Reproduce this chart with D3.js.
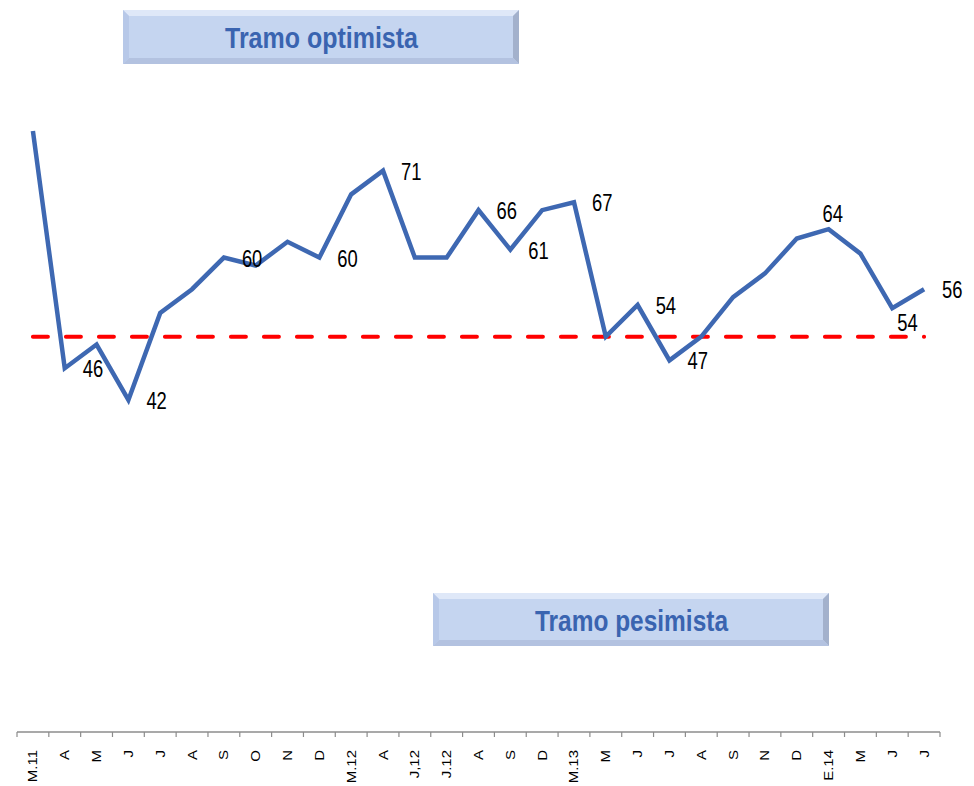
<!DOCTYPE html>
<html>
<head>
<meta charset="utf-8">
<script src="https://cdn.jsdelivr.net/npm/d3@7"></script>
<style>
  html, body { margin: 0; padding: 0; background: #fff; }
  svg { display: block; }
</style>
</head>
<body>
<svg id="chart" width="974" height="786"></svg>
<script>
// Month labels (as printed on the axis)
const months = ['M.11', 'A', 'M', 'J', 'J', 'A', 'S', 'O', 'N', 'D', 'M.12', 'A', 'J,12', 'J.12',
  'A', 'S', 'D', 'M.13', 'M', 'J', 'J', 'A', 'S', 'N', 'D', 'E.14', 'M', 'J', 'J'];

// Index values
const values = [76, 46, 49, 42, 53, 56, 60, 59, 62, 60, 68, 71, 60, 60,
  66, 61, 66, 67, 50, 54, 47, 50, 55, 58, 62.4, 63.6, 60.5, 53.6, 56];

// Points that carry a value label
const labelled = [1, 3, 6, 9, 11, 14, 15, 17, 19, 20, 25, 27, 28];
const labelAbove = [25];
const labelBelow = [27];

// Neutral level (dashed line)
const neutral = [50];

// Box captions
const boxTexts = ['Tramo optimista', 'Tramo pesimista'];

// --------------------------------------------------------------------------

const svg = d3.select('#chart');
const lineColor = '#3e68b2';
const textBlue = '#3a64b0';
const sans = '"Liberation Sans", Arial, sans-serif';

const x = d3.scaleBand()
  .domain(d3.range(months.length))
  .range([17, 940])
  .padding(0);

const y = d3.scaleLinear()
  .domain([0, 80])
  .range([732, 732 - 80 * 7.907]);

const cx = (i) => x(i) + x.bandwidth() / 2;

// Bevelled caption boxes
function drawBox(x0, y0, w, h, label) {
  const b = 6;
  const g = svg.append('g');
  g.append('rect').attr('x', x0).attr('y', y0).attr('width', w).attr('height', h).attr('fill', '#c5d5f0');
  // top
  g.append('polygon')
    .attr('points', [[x0, y0], [x0 + w, y0], [x0 + w - b, y0 + b], [x0 + b, y0 + b]].join(' '))
    .attr('fill', '#dfe8f8');
  // left
  g.append('polygon')
    .attr('points', [[x0, y0], [x0 + b, y0 + b], [x0 + b, y0 + h - b], [x0, y0 + h]].join(' '))
    .attr('fill', '#b7c8e8');
  // right
  g.append('polygon')
    .attr('points', [[x0 + w, y0], [x0 + w, y0 + h], [x0 + w - b, y0 + h - b], [x0 + w - b, y0 + b]].join(' '))
    .attr('fill', '#a3b1cc');
  // bottom
  g.append('polygon')
    .attr('points', [[x0, y0 + h], [x0 + b, y0 + h - b], [x0 + w - b, y0 + h - b], [x0 + w, y0 + h]].join(' '))
    .attr('fill', '#b3c2e0');
  g.append('text')
    .attr('x', x0 + w / 2 - 96)
    .attr('y', y0 + h / 2 + 11)
    .attr('textLength', 193)
    .attr('lengthAdjust', 'spacingAndGlyphs')
    .attr('font-family', sans)
    .attr('font-weight', 'bold')
    .attr('font-size', 29)
    .attr('fill', textBlue)
    .text(label);
}

drawBox(123, 10, 396, 54, boxTexts[0]);
drawBox(433, 593, 396, 53, boxTexts[1]);

// X axis
const axisY = y(0);
const axis = svg.append('g').attr('transform', `translate(0,${axisY})`);
axis.append('line')
  .attr('x1', x.range()[0]).attr('x2', x.range()[1])
  .attr('stroke', '#8c8c8c').attr('stroke-width', 1.5);
axis.selectAll('line.tick')
  .data(d3.range(months.length + 1))
  .enter()
  .append('line')
  .attr('class', 'tick')
  .attr('x1', (i) => x.range()[0] + i * x.step())
  .attr('x2', (i) => x.range()[0] + i * x.step())
  .attr('y1', 0).attr('y2', 5)
  .attr('stroke', '#8c8c8c').attr('stroke-width', 1.2);
axis.selectAll('text')
  .data(months)
  .enter()
  .append('text')
  .attr('transform', (d, i) => `translate(${cx(i) + 4.5},18) rotate(-90) scale(1.25,1)`)
  .attr('text-anchor', 'end')
  .attr('font-family', sans)
  .attr('font-size', 12)
  .attr('fill', '#000')
  .text((d) => d);

// Neutral dashed line
svg.append('line')
  .attr('x1', cx(0)).attr('x2', cx(months.length - 1))
  .attr('y1', y(neutral[0])).attr('y2', y(neutral[0]))
  .attr('stroke', '#ff0000')
  .attr('stroke-width', 4)
  .attr('stroke-dasharray', '15 18')
  .attr('stroke-linecap', 'round');

// Series line
const line = d3.line()
  .x((d, i) => cx(i))
  .y((d) => y(d));

svg.append('path')
  .datum(values)
  .attr('d', line)
  .attr('fill', 'none')
  .attr('stroke', lineColor)
  .attr('stroke-width', 4.5)
  .attr('stroke-linejoin', 'miter');

// Value labels (narrowed horizontally)
const lx = (i) => {
  if (labelAbove.includes(i)) return cx(i) - 6;
  if (labelBelow.includes(i)) return cx(i) + 5;
  return cx(i) + 18;
};
const ly = (i) => {
  if (labelAbove.includes(i)) return y(values[i]) - 7;
  if (labelBelow.includes(i)) return y(values[i]) + 23;
  return y(values[i]) + 9;
};
svg.selectAll('text.val')
  .data(labelled)
  .enter()
  .append('text')
  .attr('class', 'val')
  .attr('transform', (i) => `translate(${lx(i)},${ly(i)}) scale(0.8,1)`)
  .attr('font-family', sans)
  .attr('font-size', 23)
  .attr('fill', '#000')
  .text((i) => Math.round(values[i]));
</script>
</body>
</html>
